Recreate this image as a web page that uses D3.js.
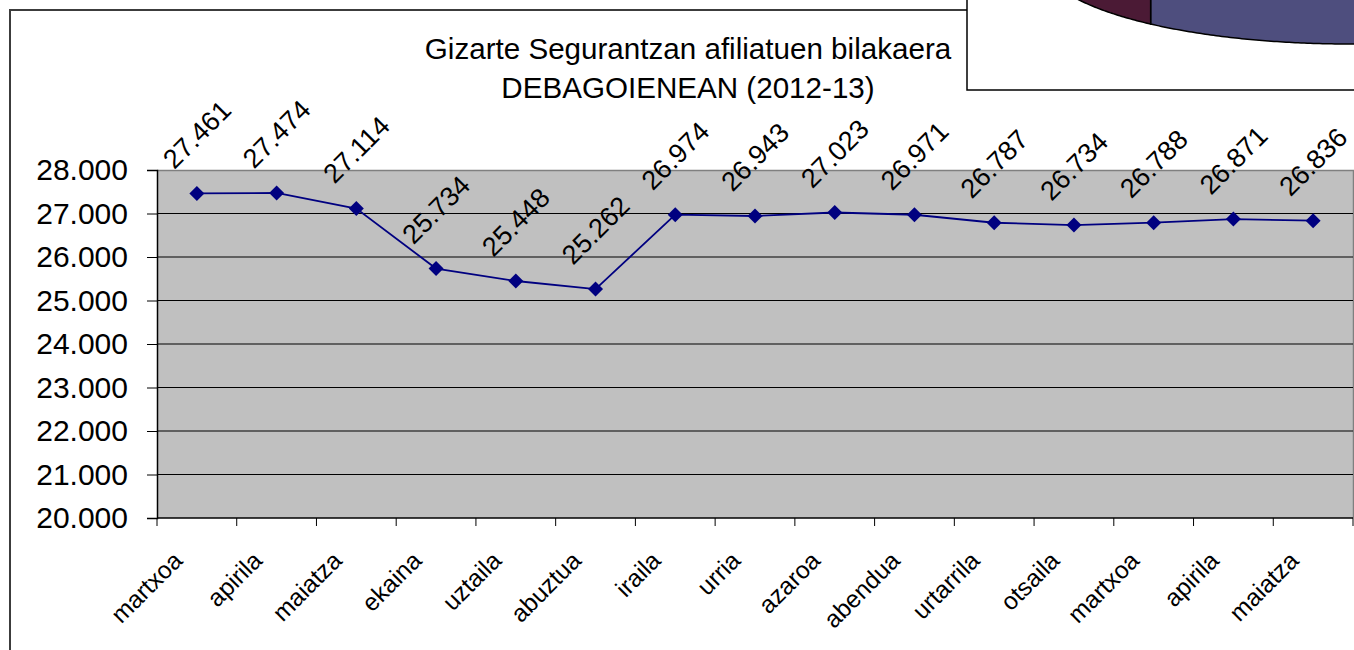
<!DOCTYPE html>
<html>
<head>
<meta charset="utf-8">
<script src="https://cdn.jsdelivr.net/npm/d3@7"></script>
<style>
  body { margin: 0; background: #fff; }
  svg { display: block; font-family: "Liberation Sans", Arial, sans-serif; }
</style>
</head>
<body>
<svg id="chart" width="1354" height="650"></svg>
<script>
// hilabeteak (x ardatza)
var months = ["martxoa", "apirila", "maiatza", "ekaina", "uztaila", "abuztua", "iraila",
              "urria", "azaroa", "abendua", "urtarrila", "otsaila", "martxoa", "apirila", "maiatza"];

// afiliatuak hilabetez hilabete
var afiliatuak = [27461, 27474, 27114, 25734, 25448, 25262, 26974,
                  26943, 27023, 26971, 26787, 26734, 26788, 26871, 26836];

var yTicks = [20000, 21000, 22000, 23000, 24000, 25000, 26000, 27000, 28000];

var titleLines = ["Gizarte Segurantzan afiliatuen bilakaera", "DEBAGOIENEAN (2012-13)"];

// the other chart that overlaps top right (only the bottom of its 3D pie shows)
var pieShares = [62, 38];
var pieColors = ["#4e4e7e", "#4b1a35"];

var plot = {left: 157, right: 1353, top: 170, bottom: 518};

var locale = d3.formatLocale({decimal: ",", thousands: ".", grouping: [3], currency: ["", "€"]}),
    fmt = locale.format(",d");

var svg = d3.select("#chart");

var x = d3.scaleBand()
    .domain(d3.range(months.length))
    .range([plot.left, plot.right]);

var y = d3.scaleLinear()
    .domain([20000, 28000])
    .range([plot.bottom, plot.top]);

// outer chart frame (left + top only visible)
svg.append("path")
    .attr("d", "M10,650V10H967")
    .attr("fill", "none")
    .attr("stroke", "#3c3c3c")
    .attr("stroke-width", 2);

// title
svg.append("g").selectAll("text")
    .data(titleLines)
    .enter().append("text")
    .attr("x", 688)
    .attr("y", function (d, i) { return 59 + i * 39; })
    .attr("text-anchor", "middle")
    .style("font-size", "29.6px")
    .text(function (d) { return d; });

// plot area
svg.append("rect")
    .attr("x", plot.left)
    .attr("y", plot.top)
    .attr("width", plot.right - plot.left)
    .attr("height", plot.bottom - plot.top)
    .attr("fill", "#c0c0c0");

svg.append("path")
    .attr("d", "M" + plot.left + "," + (plot.top + 0.5) + "H" + (plot.right + 0.5) + "V" + plot.bottom)
    .attr("fill", "none")
    .attr("stroke", "#808080")
    .attr("stroke-width", 1.5);

// gridlines
svg.append("g").selectAll("line")
    .data(yTicks.filter(function (d) { return d > 20000 && d < 28000; }))
    .enter().append("line")
    .attr("x1", plot.left)
    .attr("x2", plot.right)
    .attr("y1", function (d) { return y(d); })
    .attr("y2", function (d) { return y(d); })
    .attr("stroke", "#000")
    .attr("stroke-width", 1.2);

// y axis
var yAxis = d3.axisLeft(y)
    .tickValues(yTicks)
    .tickSize(10)
    .tickPadding(19)
    .tickFormat(fmt);

var gy = svg.append("g")
    .attr("transform", "translate(" + plot.left + ",0)")
    .call(yAxis);
gy.select(".domain").attr("stroke", "#000").attr("stroke-width", 1.5);
gy.selectAll(".tick line").attr("stroke", "#000");
gy.selectAll(".tick text")
    .attr("fill", "#000")
    .style("font-size", "30px")
    .style("font-family", "'Liberation Sans', Arial, sans-serif");

// x axis: line + ticks between categories
svg.append("line")
    .attr("x1", plot.left)
    .attr("x2", plot.right)
    .attr("y1", plot.bottom)
    .attr("y2", plot.bottom)
    .attr("stroke", "#000")
    .attr("stroke-width", 1.5);

svg.append("g").selectAll("line")
    .data(d3.range(months.length + 1))
    .enter().append("line")
    .attr("x1", function (i) { return i < months.length ? x(i) : plot.right; })
    .attr("x2", function (i) { return i < months.length ? x(i) : plot.right; })
    .attr("y1", plot.bottom)
    .attr("y2", plot.bottom + 8)
    .attr("stroke", "#000");

svg.append("g").selectAll("text")
    .data(months)
    .enter().append("text")
    .attr("transform", function (d, i) {
        return "translate(" + (x(i) + x.bandwidth() / 2 - 13) + ",562) rotate(-45)";
    })
    .attr("text-anchor", "end")
    .style("font-size", "24.5px")
    .text(function (d) { return d; });

// series line
var cx = function (i) { return x(i) + x.bandwidth() / 2; };

var line = d3.line()
    .x(function (d, i) { return cx(i); })
    .y(function (d) { return y(d); });

svg.append("path")
    .datum(afiliatuak)
    .attr("d", line)
    .attr("fill", "none")
    .attr("stroke", "#000080")
    .attr("stroke-width", 1.8);

svg.append("g").selectAll("path")
    .data(afiliatuak)
    .enter().append("path")
    .attr("transform", function (d, i) { return "translate(" + cx(i) + "," + y(d) + ")"; })
    .attr("d", "M0,-7.5L7.5,0L0,7.5L-7.5,0Z")
    .attr("fill", "#000080");

// data labels
svg.append("g").selectAll("text")
    .data(afiliatuak)
    .enter().append("text")
    .attr("transform", function (d, i) {
        return "translate(" + cx(i) + "," + (y(d) - 59) + ") rotate(-45)";
    })
    .attr("text-anchor", "middle")
    .attr("dy", "0.35em")
    .style("font-size", "27px")
    .text(function (d) { return fmt(d); });

// overlapping chart box, top right
var box = svg.append("g");
box.append("rect")
    .attr("x", 967)
    .attr("y", -5)
    .attr("width", 400)
    .attr("height", 95)
    .attr("fill", "#fff")
    .attr("stroke", "#000")
    .attr("stroke-width", 1.5);

var pieCx = 1350, pieCy = -40, rx = 308, ry = 84, depth = 60;
var slices = d3.pie().sort(null).startAngle(-0.05)(pieShares);

function wallPath(a0, a1) {
    // keep only the front half of the rim
    a0 = Math.max(a0, Math.PI / 2);
    a1 = Math.min(a1, Math.PI * 1.5);
    if (a1 <= a0) return null;
    var pts = d3.range(a0, a1, 0.01).concat([a1]);
    var bottom = pts.map(function (a) { return [pieCx + rx * Math.sin(a), pieCy - ry * Math.cos(a)]; });
    var top = pts.slice().reverse().map(function (a) { return [pieCx + rx * Math.sin(a), pieCy - depth - ry * Math.cos(a)]; });
    return "M" + bottom.concat(top).join("L") + "Z";
}

box.append("clipPath").attr("id", "boxclip")
    .append("rect").attr("x", 967).attr("y", 0).attr("width", 400).attr("height", 90);

box.append("g").attr("clip-path", "url(#boxclip)")
    .selectAll("path")
    .data(slices)
    .enter().append("path")
    .attr("d", function (d) { return wallPath(d.startAngle, d.endAngle); })
    .attr("fill", function (d, i) { return pieColors[i]; })
    .attr("stroke", "#000")
    .attr("stroke-width", 1.5);
</script>
</body>
</html>
